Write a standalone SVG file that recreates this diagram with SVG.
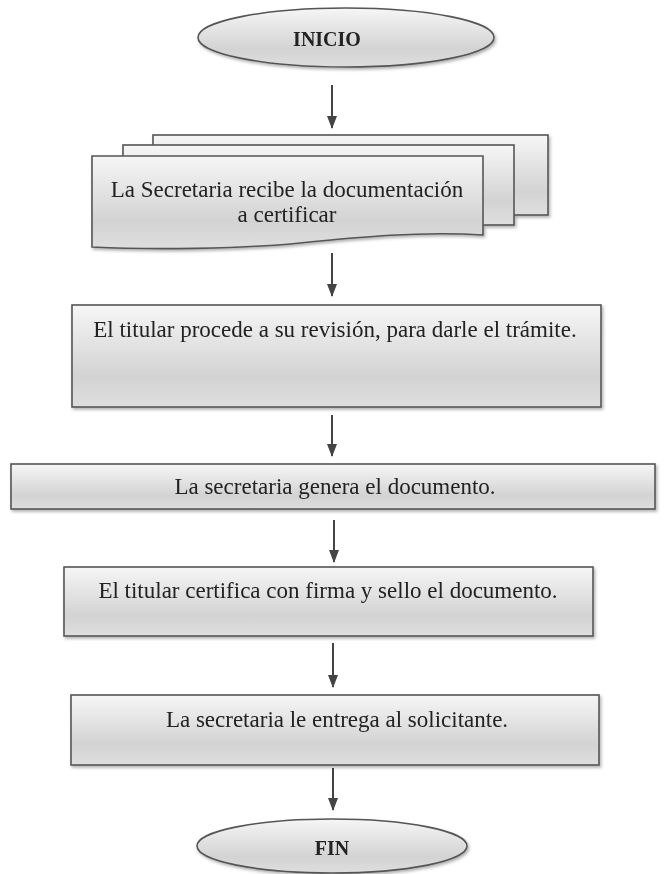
<svg xmlns="http://www.w3.org/2000/svg" width="666" height="874" viewBox="0 0 666 874">
<style>
.shape{stroke:#555;stroke-width:1.6;fill:url(#g)}
.lbl{font-family:"Liberation Serif","Times New Roman",serif;font-size:23px;fill:#222;text-anchor:middle}
.term{font-family:"Liberation Serif","Times New Roman",serif;font-size:20px;font-weight:bold;fill:#222;text-anchor:middle}
.conn{stroke:#444;stroke-width:2;fill:none;marker-end:url(#ah)}
</style>
<defs>
<linearGradient id="g" x1="0" y1="0" x2="0" y2="1">
<stop offset="0" stop-color="#f6f6f6"/>
<stop offset="0.7" stop-color="#d3d3d3"/>
<stop offset="1" stop-color="#dedede"/>
</linearGradient>
<filter id="sh" x="-5%" y="-10%" width="110%" height="130%">
<feDropShadow dx="1.5" dy="2" stdDeviation="1.5" flood-color="#000" flood-opacity="0.3"/>
</filter>
<marker id="ah" markerWidth="13" markerHeight="10" refX="12" refY="5" orient="auto" markerUnits="userSpaceOnUse" viewBox="0 0 13 10">
<path d="M0,0 L13,5 L0,10 Z" fill="#444"/>
</marker>
</defs>
<rect width="666" height="874" fill="#fff"/>
<g id="connectors">
<line class="conn" x1="332" y1="85" x2="332" y2="128"/>
<line class="conn" x1="332" y1="253" x2="332" y2="296"/>
<line class="conn" x1="332" y1="415" x2="332" y2="456"/>
<line class="conn" x1="334" y1="520" x2="334" y2="562"/>
<line class="conn" x1="333" y1="643" x2="333" y2="687"/>
<line class="conn" x1="333" y1="768" x2="333" y2="810"/>
</g>
<g id="inicio" filter="url(#sh)">
<ellipse class="shape" cx="346" cy="37.5" rx="148" ry="29.5"/>
<text class="term" x="327" y="46">INICIO</text>
</g>
<g id="recibe" filter="url(#sh)">
<rect class="shape" x="153" y="135" width="395" height="80"/>
<rect class="shape" x="123" y="145" width="391" height="80"/>
<path class="shape" d="M92,156 H483 V235 C420,231 360,237 300,243 C240,249 150,250 92,247 Z"/>
<text class="lbl" x="287" y="197">La Secretaria recibe la documentación</text>
<text class="lbl" x="287" y="222">a certificar</text>
</g>
<g id="revision" filter="url(#sh)">
<rect class="shape" x="72" y="305" width="529" height="102"/>
<text class="lbl" x="335" y="337">El titular procede a su revisión, para darle el trámite.</text>
</g>
<g id="genera" filter="url(#sh)">
<rect class="shape" x="11" y="464" width="644" height="45"/>
<text class="lbl" x="335" y="494">La secretaria genera el documento.</text>
</g>
<g id="certifica" filter="url(#sh)">
<rect class="shape" x="64" y="567" width="529" height="69"/>
<text class="lbl" x="328" y="598">El titular certifica con firma y sello el documento.</text>
</g>
<g id="entrega" filter="url(#sh)">
<rect class="shape" x="71" y="695" width="528" height="70"/>
<text class="lbl" x="337" y="727">La secretaria le entrega al solicitante.</text>
</g>
<g id="fin" filter="url(#sh)">
<ellipse class="shape" cx="332" cy="846" rx="135" ry="27"/>
<text class="term" x="332" y="855">FIN</text>
</g>
</svg>
